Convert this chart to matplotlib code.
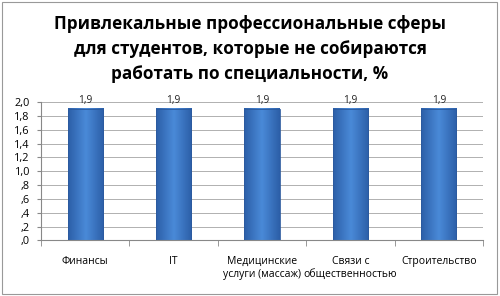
import matplotlib.pyplot as plt
import numpy as np
from matplotlib.colors import LinearSegmentedColormap
from matplotlib.patches import Rectangle

categories = ['Финансы', 'IT', 'Медицинские\nуслуги (массаж)', 'Связи с\nобщественностью', 'Строительство']
values = [1.9, 1.9, 1.9, 1.9, 1.9]
yticks = np.arange(0, 2.01, 0.2)

plt.rcParams['font.family'] = ['Open Sans', 'DejaVu Sans']

fig = plt.figure(figsize=(5, 2.96), dpi=100)
ax = fig.add_axes([0.082, 0.188, 0.884, 0.467])

x = np.arange(len(categories))
bars = ax.bar(x, values, width=0.4, color='none', edgecolor='#2b5a9e', linewidth=0.6, zorder=3)

# horizontal gradient like the Excel bars
cmap = LinearSegmentedColormap.from_list('g', ['#2c5fa8', '#4a8ad8', '#2c5fa8'])
grad = np.linspace(0, 1, 64).reshape(1, -1)
for b in bars:
    x0, w, h = b.get_x(), b.get_width(), b.get_height()
    ax.imshow(grad, cmap=cmap, aspect='auto', extent=(x0, x0 + w, 0, h), zorder=2)
    ax.text(x0 + w / 2, h + 0.05, f'{h:.1f}'.replace('.', ','), ha='center', va='bottom',
            fontsize=7.3, color='#222222')

ax.set_xlim(-0.5, len(categories) - 0.5)
ax.set_ylim(0, 2.0)
ax.set_yticks(yticks)
ax.set_yticklabels([f'{v:.1f}'.replace('.', ',').lstrip('0') if v < 1 else f'{v:.1f}'.replace('.', ',') for v in yticks],
                   fontsize=7.8)
ax.set_xticks(x)
ax.set_xticklabels(categories, fontsize=7.5, linespacing=1.25)
ax.set_xticks(np.arange(-0.5, len(categories)), minor=True)
ax.tick_params(axis='x', which='major', length=0, pad=11)
ax.tick_params(axis='x', which='minor', length=4, color='#888888')
ax.tick_params(axis='y', length=3, color='#888888', pad=5)
ax.grid(axis='y', color='#b0b0b0', linewidth=0.7, zorder=0)
for s in ['top', 'right']:
    ax.spines[s].set_visible(False)
ax.spines['left'].set_color('#888888')
ax.spines['bottom'].set_color('#888888')

fig.text(0.5, 0.95, 'Привлекальные профессиональные сферы\nдля студентов, которые не собираются\nработать по специальности, %',
         ha='center', va='top', fontsize=12.3, fontweight='bold', linespacing=1.5)

fig.add_artist(Rectangle((0.004, 0.008), 0.99, 0.985, transform=fig.transFigure,
                         fill=False, edgecolor='#999999', linewidth=0.8))

fig.savefig('out.png', dpi=100)
